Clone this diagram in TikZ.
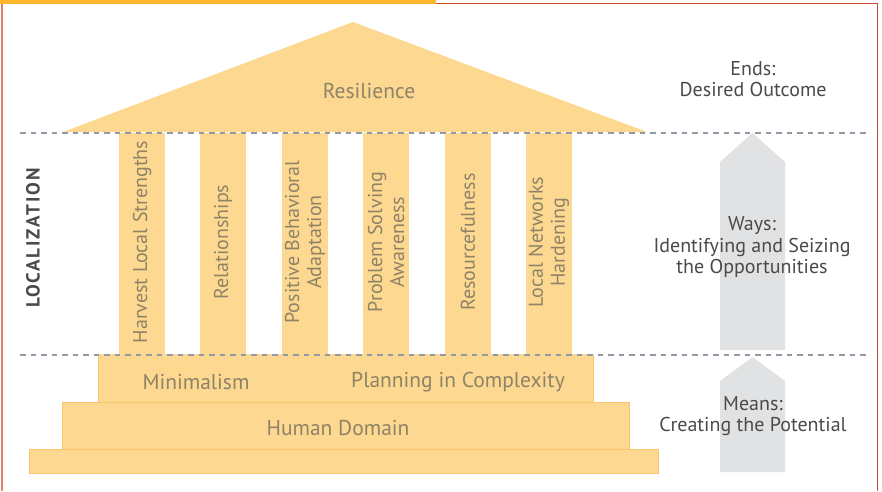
\documentclass[tikz,border=0pt]{standalone}
\usepackage{fontspec}
\setmainfont{PT Sans}
\definecolor{sand}{HTML}{FDD890}
\definecolor{sandedge}{HTML}{F8C66C}
\definecolor{sandtext}{HTML}{8E8367}
\definecolor{greytext}{HTML}{4A4A4A}
\definecolor{arrowgrey}{HTML}{E1E2E4}
\definecolor{rule}{HTML}{9199A5}
\definecolor{topbar}{HTML}{FDB62C}
\definecolor{frame}{HTML}{C9492F}
\definecolor{frameleft}{HTML}{E0806E}
\begin{document}
\begin{tikzpicture}[x=1pt,y=-1pt,
  pillar/.style={fill=sand,draw=none},
  pillarlabel/.style={rotate=90,text=sandtext,align=center,font=\fontsize{20}{22}\selectfont,inner sep=0pt},
  steplabel/.style={text=sandtext,font=\fontsize{21.5}{22}\selectfont,inner sep=0pt},
  sidelabel/.style={text=greytext,align=center,font=\fontsize{20}{21.5}\selectfont,inner sep=0pt},
  levelrule/.style={draw=rule,line width=1.8pt,dash pattern=on 5.5pt off 5pt},
  stepbox/.style={fill=sand,draw=sandedge,line width=0.8pt},
  upflow/.style={fill=arrowgrey,draw=none}]
\useasboundingbox (0,0) rectangle (882,491);
\fill[white] (0,0) rectangle (882,491);

% frame and top bar
\fill[topbar] (0,0) rectangle (436,3.6);
\draw[frame,line width=1.6pt] (436,3.6) -- (877.5,3.6) -- (877.5,491);
\draw[frameleft,line width=1.8pt] (2.2,3.6) -- (2.2,491);

% roof
\fill[sand] (63,132) -- (353,22) -- (647,132) -- cycle;
\node[steplabel] (roof) at (369,91) {Resilience};

% pillars
\foreach \x/\n in {119/p1,200/p2,282/p3,363/p4,445/p5,526/p6}{
  \fill[pillar] (\x,133) rectangle ++(46,222);
  \coordinate (\n) at (\x+23,242);
}
\node[pillarlabel] (l1) at (p1) {Harvest Local Strengths};
\node[pillarlabel] (l2) at (p2) {Relationships};
\node[pillarlabel] (l3) at (p3) {Positive Behavioral\\Adaptation};
\node[pillarlabel] (l4) at (p4) {Problem Solving\\Awareness};
\node[pillarlabel] (l5) at (p5) {Resourcefulness};
\node[pillarlabel] (l6) at (p6) {Local Networks\\Hardening};

% stepped base
\draw[stepbox] (29,449) rectangle (658,473);
\draw[stepbox] (62,402) rectangle (629,449);
\draw[stepbox] (98,355) rectangle (593,402);
\fill[sand] (98.5,354) rectangle (592.5,356);
\node[steplabel] (min) at (196,382) {Minimalism};
\node[steplabel] (plan) at (458,382) {Planning in Complexity};
\node[steplabel] (human) at (338,428) {Human Domain};

% upward flow arrows
\fill[upflow] (720,162) -- (752.5,133) -- (785,162) -- (785,350) -- (720,350) -- cycle;
\fill[upflow] (720,381) -- (752.5,357) -- (785,381) -- (785,472) -- (720,472) -- cycle;

% level rules
\draw[levelrule] (20,133) -- (866,133);
\draw[levelrule] (20,355) -- (866,355);

% side labels
\node[rotate=90,text=greytext,font=\fontsize{19}{20}\selectfont\bfseries\addfontfeature{LetterSpace=10},inner sep=0pt] (loc) at (33,238) {LOCALIZATION};
\node[sidelabel] (ends) at (753,79) {Ends:\\Desired Outcome};
\node[sidelabel] (ways) at (752,247) {Ways:\\Identifying and Seizing\\the Opportunities};
\node[sidelabel] (means) at (753,416) {Means:\\Creating the Potential};
\end{tikzpicture}
\end{document}
